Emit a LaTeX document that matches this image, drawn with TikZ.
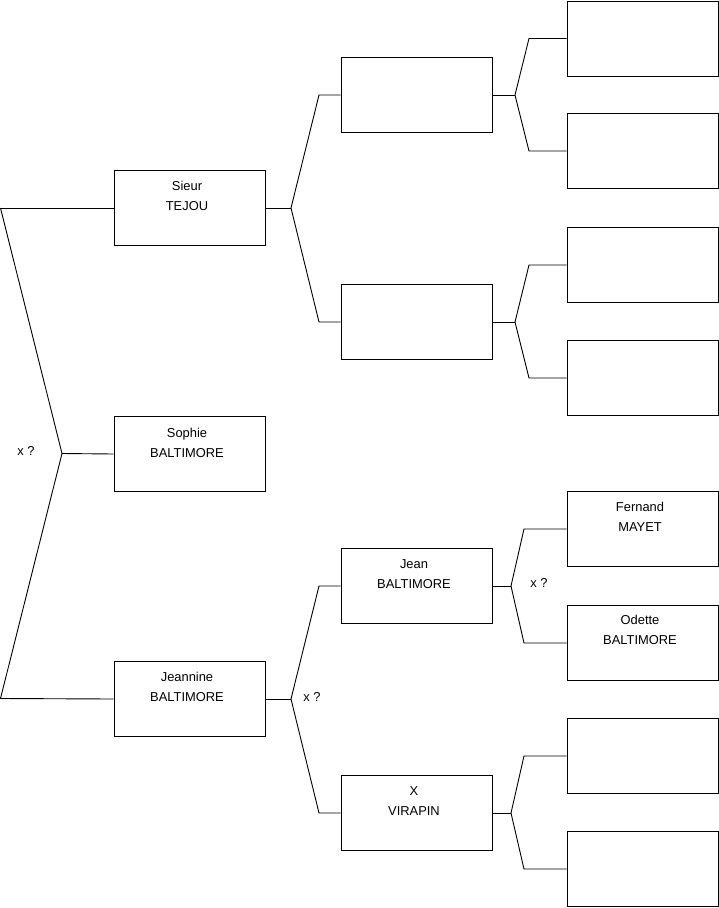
\documentclass[tikz,border=0pt]{standalone}
\usepackage{fontspec}
\setmainfont{Liberation Sans}
\begin{document}
\begin{tikzpicture}[x=1pt,y=-1pt,
  box/.style={draw=black,line width=0.9pt,rectangle,minimum width=151pt,minimum height=75pt,inner sep=0pt,anchor=center},
  txt/.style={align=center,font=\fontsize{12.9}{19.8}\selectfont,inner sep=0pt},
  link/.style={draw=black,line width=0.9pt}]
\useasboundingbox (0,0) rectangle (719,908);
% column 1
\node[box] (tejou) at (189.5,208) {};
\node[box] (sophie) at (189.5,454) {};
\node[box] (jeannine) at (189.5,699) {};
% column 2
\node[box] (p1) at (416.5,95) {};
\node[box] (p2) at (416.5,322) {};
\node[box] (jean) at (416.5,586) {};
\node[box] (virapin) at (416.5,813) {};
% column 3
\node[box] (g1) at (642.5,38.5) {};
\node[box] (g2) at (642.5,151) {};
\node[box] (g3) at (642.5,265) {};
\node[box] (g4) at (642.5,378) {};
\node[box] (fernand) at (642.5,529) {};
\node[box] (odette) at (642.5,643) {};
\node[box] (g7) at (642.5,756) {};
\node[box] (g8) at (642.5,869) {};
% texts
\node[txt] (t1) at (187,196) {Sieur\\TEJOU};
\node[txt] (t2) at (187,443) {Sophie\\BALTIMORE};
\node[txt] (t3) at (187,687) {Jeannine\\BALTIMORE};
\node[txt] (t4) at (414,574) {Jean\\BALTIMORE};
\node[txt] (t5) at (414,801) {X\\VIRAPIN};
\node[txt] (t6) at (640,517) {Fernand\\MAYET};
\node[txt] (t7) at (640,630) {Odette\\BALTIMORE};
% left fork
\coordinate (l0) at (0.5,208);
\coordinate (lf) at (62,453.5);
\coordinate (l2) at (0.5,698.5);
\draw[link] (l0) -- (tejou.west);
\draw[link] (l0) -- (lf) -- (sophie.west);
\draw[link] (lf) -- (l2) -- (jeannine.west);
\node[txt] (x1) at (26,451) {x ?};
% tejou fork
\coordinate (f1) at (291,208);
\coordinate (f1a) at (319,95);
\coordinate (f1b) at (319,322);
\draw[link] (tejou.east) -- (f1);
\draw[link] (f1) -- (f1a) -- (p1.west);
\draw[link] (f1) -- (f1b) -- (p2.west);
% p1 fork
\coordinate (f2) at (515,95);
\coordinate (f2a) at (529,38.5);
\coordinate (f2b) at (529,151);
\draw[link] (p1.east) -- (f2);
\draw[link] (f2) -- (f2a) -- (g1.west);
\draw[link] (f2) -- (f2b) -- (g2.west);
% p2 fork
\coordinate (f3) at (515,322);
\coordinate (f3a) at (529,265);
\coordinate (f3b) at (529,378);
\draw[link] (p2.east) -- (f3);
\draw[link] (f3) -- (f3a) -- (g3.west);
\draw[link] (f3) -- (f3b) -- (g4.west);
% jeannine fork
\coordinate (f4) at (291,699);
\coordinate (f4a) at (319,586);
\coordinate (f4b) at (319,813);
\draw[link] (jeannine.east) -- (f4);
\draw[link] (f4) -- (f4a) -- (jean.west);
\draw[link] (f4) -- (f4b) -- (virapin.west);
\node[txt] (x2) at (312,697) {x ?};
% jean fork
\coordinate (f5) at (511,586);
\coordinate (f5a) at (524,529);
\coordinate (f5b) at (524,643);
\draw[link] (jean.east) -- (f5);
\draw[link] (f5) -- (f5a) -- (fernand.west);
\draw[link] (f5) -- (f5b) -- (odette.west);
\node[txt] (x3) at (539,583) {x ?};
% virapin fork
\coordinate (f6) at (511,813);
\coordinate (f6a) at (524,756);
\coordinate (f6b) at (524,869);
\draw[link] (virapin.east) -- (f6);
\draw[link] (f6) -- (f6a) -- (g7.west);
\draw[link] (f6) -- (f6b) -- (g8.west);
\end{tikzpicture}
\end{document}
